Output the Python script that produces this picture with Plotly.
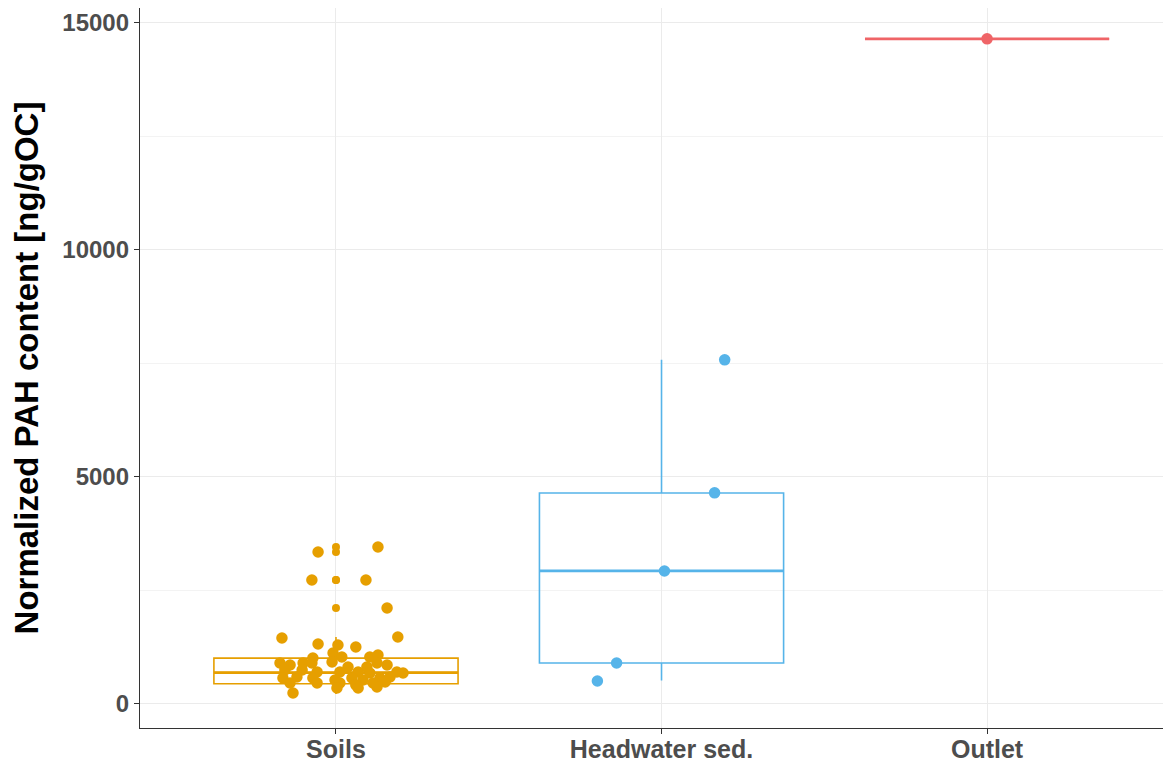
import plotly.graph_objects as go

categories = ["Soils", "Headwater sed.", "Outlet"]
colors = ["#E69F00", "#56B4E9", "#EF6467"]

y_tick_values = [0, 5000, 10000, 15000]
y_tick_labels = ["0", "5000", "10000", "15000"]

# Box statistics
q1 = [445, 903, 14650]
median = [690, 2930, 14650]
q3 = [1010, 4648, 14650]
lowerfence = [220, 520, 14650]
upperfence = [1476, 7580, 14650]

# Boxplot outliers (drawn at category centre)
soils_outliers = [3458, 3348, 2731, 2731, 2115]

# Jittered observations: values and horizontal jitter offsets (category units)
soils_values = [3348, 3458, 2731, 2731, 2115,
                1454, 1322, 1300, 1256, 1476,
                1123, 1013, 1035, 1035, 1079,
                903, 859, 903, 903, 925, 815, 815, 903, 859,
                749, 749, 705, 705, 705, 683, 705, 683,
                573, 595, 573, 529, 573, 529, 573, 595,
                463, 463, 463, 419, 463, 485,
                242, 352, 352, 374]
soils_jitter = [-0.055, 0.129, -0.074, 0.092, 0.157,
                -0.166, -0.055, 0.006, 0.061, 0.190,
                -0.009, -0.071, 0.018, 0.104, 0.129,
                -0.172, -0.141, -0.101, -0.074, -0.012, 0.037, 0.095, 0.126, 0.157,
                -0.157, -0.104, -0.058, 0.012, 0.068, 0.104, 0.187, 0.206,
                -0.163, -0.120, -0.071, -0.003, 0.049, 0.083, 0.135, 0.166,
                -0.141, -0.058, 0.012, 0.061, 0.114, 0.151,
                -0.132, 0.003, 0.068, 0.126]

head_values = [7580, 4650, 2930, 903, 507]
head_jitter = [0.194, 0.163, 0.009, -0.138, -0.197]

outlet_values = [14650]
outlet_jitter = [0.0]

box_width = 0.75

fig = go.Figure()

for i, cat in enumerate(categories):
    fig.add_trace(go.Box(
        x=[i], q1=[q1[i]], median=[median[i]], q3=[q3[i]],
        lowerfence=[lowerfence[i]], upperfence=[upperfence[i]],
        width=box_width, whiskerwidth=0,
        line=dict(color=colors[i], width=1.6),
        fillcolor="rgba(0,0,0,0)", boxpoints=False,
        showlegend=False, hoverinfo="skip"))
    # thicker median line like ggplot
    fig.add_trace(go.Scatter(
        x=[i - box_width / 2, i + box_width / 2], y=[median[i], median[i]],
        mode="lines", line=dict(color=colors[i], width=2.8),
        showlegend=False, hoverinfo="skip"))

# outliers
fig.add_trace(go.Scatter(
    x=[0] * len(soils_outliers), y=soils_outliers, mode="markers",
    marker=dict(color=colors[0], size=8), showlegend=False))

groups = [(soils_values, soils_jitter), (head_values, head_jitter),
          (outlet_values, outlet_jitter)]
for i, (vals, jit) in enumerate(groups):
    fig.add_trace(go.Scatter(
        x=[i + j for j in jit], y=vals, mode="markers",
        marker=dict(color=colors[i], size=11.5, line=dict(width=0)),
        showlegend=False))

font_family = "Liberation Sans, Arial, sans-serif"

# the page body adds an 8px offset, so the figure is sized/margined to compensate
fig.update_layout(
    width=1163, height=758,
    margin=dict(l=132, r=0, t=0, b=38),
    paper_bgcolor="white", plot_bgcolor="white",
    font=dict(family=font_family),
    xaxis=dict(
        range=[-0.602, 2.565], tickvals=[0, 1, 2], ticktext=categories,
        automargin=False, ticklabelstandoff=-6,
        showgrid=True, gridcolor="#EBEBEB", gridwidth=1.2, zeroline=False,
        showline=True, mirror=True, linecolor="#333333", linewidth=1.3,
        ticks="outside", ticklen=5, tickcolor="#333333", tickwidth=1.3,
        tickfont=dict(size=25, color="#4D4D4D", family=font_family, weight="bold"),
    ),
    yaxis=dict(
        range=[-529, 15330], tickvals=y_tick_values, ticktext=y_tick_labels,
        automargin=False,
        showgrid=True, gridcolor="#EBEBEB", gridwidth=1.2, zeroline=False,
        minor=dict(dtick=2500, tick0=0, showgrid=True, gridcolor="#F3F3F3", gridwidth=1),
        showline=True, mirror=False, linecolor="#333333", linewidth=1.3,
        ticks="outside", ticklen=5, tickcolor="#333333", tickwidth=1.3,
        tickfont=dict(size=24, color="#4D4D4D", family=font_family, weight="bold"),
        title=dict(text="Normalized PAH content [ng/gOC]",
                   font=dict(size=33, color="black", family=font_family, weight="bold"),
                   standoff=22),
    ),
)

fig.write_html("out.html")
